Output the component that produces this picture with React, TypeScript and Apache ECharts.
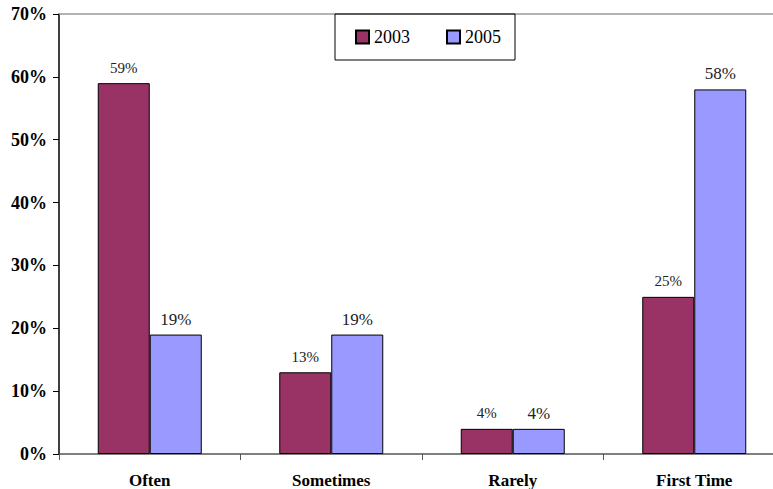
import React, { useEffect, useRef } from "react";
import * as echarts from "echarts";

const categories = ["Often", "Sometimes", "Rarely", "First Time"];
const values2003 = [59, 13, 4, 25];
const values2005 = [19, 19, 4, 58];
const yTicks = [0, 10, 20, 30, 40, 50, 60, 70];

const FONT = "'Liberation Serif', 'Times New Roman', serif";

export default function App() {
  const ref = useRef<HTMLDivElement>(null);
  useEffect(() => {
    if (!ref.current) return;
    const chart = echarts.init(ref.current, null, { renderer: "svg" });
    chart.setOption({
      animation: false,
      backgroundColor: "#ffffff",
      textStyle: { fontFamily: FONT },
      grid: { left: 59, width: 726, top: 14, bottom: 35, containLabel: false },
      legend: {
        top: 14,
        left: 335,
        width: 177,
        height: 47,
        padding: [14, 14, 14, 20],
        itemGap: 36,
        borderColor: "#000",
        borderWidth: 1,
        itemWidth: 13,
        itemHeight: 13,
        icon: "rect",
        textStyle: { fontFamily: FONT, fontSize: 18, color: "#000" },
        data: ["2003", "2005"],
      },
      xAxis: [
        {
          type: "category",
          data: categories,
          axisLine: { lineStyle: { color: "#555", width: 1.5 } },
          axisTick: { show: true, alignWithLabel: false, length: 6, lineStyle: { color: "#555" } },
          axisLabel: {
            fontFamily: FONT,
            fontWeight: "bold",
            fontSize: 17,
            color: "#000",
            margin: 18,
          },
        },
        {
          type: "category",
          position: "top",
          data: categories,
          axisLine: { lineStyle: { color: "#999", width: 1.5 } },
          axisTick: { show: false },
          axisLabel: { show: false },
        },
      ],
      yAxis: {
        type: "value",
        min: 0,
        max: 70,
        interval: 10,
        axisLine: { show: true, lineStyle: { color: "#000", width: 1.5 } },
        axisTick: { show: true, length: 6, lineStyle: { color: "#000" } },
        splitLine: { show: false },
        axisLabel: {
          fontFamily: FONT,
          fontWeight: "bold",
          fontSize: 18,
          color: "#000",
          margin: 12,
          formatter: (v: number) => (yTicks.includes(v) ? v + "%" : ""),
        },
      },
      series: [
        {
          name: "2003",
          type: "bar",
          data: values2003,
          barWidth: 52,
          barGap: "0%",
          itemStyle: { color: "#993366", borderColor: "#000", borderWidth: 1 },
          label: {
            show: true,
            position: "top",
            distance: 8,
            formatter: "{c}%",
            fontFamily: FONT,
            fontSize: 15,
            color: "#222",
          },
        },
        {
          name: "2005",
          type: "bar",
          data: values2005,
          barWidth: 52,
          itemStyle: { color: "#9999ff", borderColor: "#000", borderWidth: 1 },
          label: {
            show: true,
            position: "top",
            distance: 7,
            formatter: "{c}%",
            fontFamily: FONT,
            fontSize: 17,
            color: "#222",
          },
        },
      ],
    });
    return () => chart.dispose();
  }, []);
  return (
    <div style={{ width: 773, height: 489, position: "fixed", left: 0, top: 0, overflow: "hidden" }}>
      <div ref={ref} style={{ width: 800, height: 489 }} />
    </div>
  );
}
